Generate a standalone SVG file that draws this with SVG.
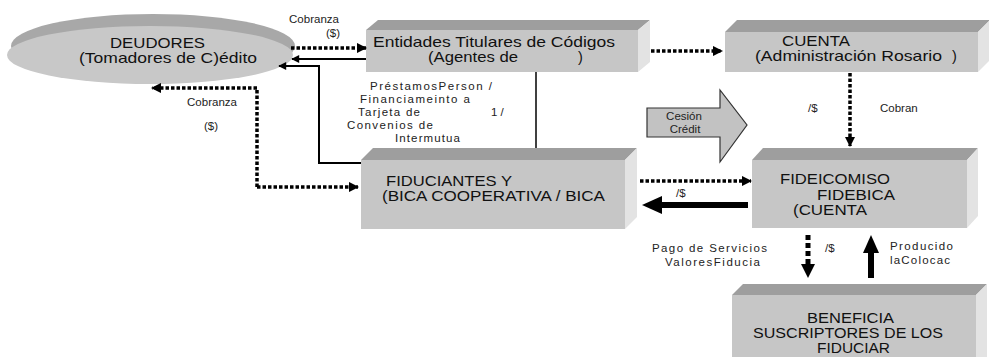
<svg xmlns="http://www.w3.org/2000/svg" width="989" height="357" viewBox="0 0 989 357">
<style>
.front{fill:#c6c6c6}
.top{fill:#9e9e9e}
.side{fill:#e3e3e3}
.big{font-family:"Liberation Sans",Arial,sans-serif;font-size:14.5px;fill:#111}
.sm{font-family:"Liberation Sans",Arial,sans-serif;font-size:11.5px;fill:#222}
.dot{fill:none;stroke:#000;stroke-width:3.5;stroke-dasharray:3.5 2}
.thin{fill:none;stroke:#000;stroke-width:2}
</style>
<defs>
<marker id="ah" viewBox="0 0 10 10" refX="9" refY="5" markerWidth="3" markerHeight="3" orient="auto" markerUnits="strokeWidth">
<path d="M0,0 L10,5 L0,10 Z" fill="#000"/>
</marker>
<marker id="ahThin" viewBox="0 0 10 10" refX="9" refY="5" markerWidth="5" markerHeight="4" orient="auto" markerUnits="strokeWidth">
<path d="M0,0 L10,5 L0,10 Z" fill="#000"/>
</marker>
</defs>

<g id="deudores">
<ellipse cx="153" cy="46" rx="142" ry="32" fill="#a8a8a8"/>
<ellipse cx="150" cy="55" rx="143" ry="29" fill="#c8c8c8"/>
<text class="big" x="110" y="48" textLength="95" lengthAdjust="spacingAndGlyphs">DEUDORES</text>
<text class="big" x="79" y="63" textLength="178" lengthAdjust="spacingAndGlyphs">(Tomadores de C)édito</text>
</g>

<g id="entidades">
<polygon class="top" points="366,30 378,20 650,20 638,30"/>
<polygon class="side" points="638,30 650,20 650,62 638,72"/>
<rect class="front" x="366" y="30" width="272" height="42"/>
<text class="big" x="373" y="47" textLength="242" lengthAdjust="spacingAndGlyphs">Entidades Titulares de Códigos</text>
<text class="big" x="428" y="62" textLength="90" lengthAdjust="spacingAndGlyphs">(Agentes de</text>
<text class="big" x="578" y="62">)</text>
</g>

<g id="cuenta">
<polygon class="top" points="725,32 737,20 990,20 978,32"/>
<polygon class="side" points="978,32 990,20 990,60 978,72"/>
<rect class="front" x="725" y="32" width="253" height="40"/>
<text class="big" x="782" y="46" textLength="68" lengthAdjust="spacingAndGlyphs">CUENTA</text>
<text class="big" x="755" y="61" textLength="187" lengthAdjust="spacingAndGlyphs">(Administración Rosario</text>
<text class="big" x="952" y="61">)</text>
</g>

<g id="cesion">
<polygon points="647,108 720,108 720,90 747,125 720,162 720,137 647,137" fill="#c2c2c2" stroke="#333" stroke-width="1.2"/>
<text class="sm" x="684" y="120" text-anchor="middle" font-size="11">Cesión</text>
<text class="sm" x="685" y="133" text-anchor="middle" font-size="11">Crédit</text>
</g>

<g id="fiduciantes">
<polygon class="top" points="361,160 373,148 637,148 625,160"/>
<polygon class="side" points="625,160 637,148 637,217 625,229"/>
<rect class="front" x="361" y="160" width="264" height="69"/>
<text class="big" x="386" y="186" textLength="126" lengthAdjust="spacingAndGlyphs">FIDUCIANTES Y</text>
<text class="big" x="382" y="201" textLength="223" lengthAdjust="spacingAndGlyphs">(BICA COOPERATIVA / BICA</text>
</g>

<g id="fideicomiso">
<polygon class="top" points="752,160 763,148 978,148 967,160"/>
<polygon class="side" points="967,160 978,148 978,216 967,228"/>
<rect class="front" x="752" y="160" width="215" height="68"/>
<text class="big" x="780" y="184" textLength="110" lengthAdjust="spacingAndGlyphs">FIDEICOMISO</text>
<text class="big" x="817" y="200" textLength="78" lengthAdjust="spacingAndGlyphs">FIDEBICA</text>
<text class="big" x="793" y="215" textLength="74" lengthAdjust="spacingAndGlyphs">(CUENTA</text>
</g>

<g id="beneficia">
<polygon class="top" points="732,295 743,284 987,284 976,295"/>
<polygon class="side" points="976,295 987,284 987,357 976,357"/>
<rect class="front" x="732" y="295" width="244" height="62"/>
<text class="big" x="807" y="323" textLength="87" lengthAdjust="spacingAndGlyphs">BENEFICIA</text>
<text class="big" x="753" y="338" textLength="190" lengthAdjust="spacingAndGlyphs">SUSCRIPTORES DE LOS</text>
<text class="big" x="817" y="353" textLength="73" lengthAdjust="spacingAndGlyphs">FIDUCIAR</text>
</g>

<g id="connectors">
<path class="dot" d="M291,48 L366,48" marker-end="url(#ah)"/>
<path class="thin" d="M366,59 L292,59" marker-end="url(#ahThin)"/>
<path class="thin" d="M361,163 L319,163 L319,66 L279,66" marker-end="url(#ahThin)"/>
<path d="M536,72 L536,148" stroke="#000" stroke-width="1.5" fill="none"/>
<path class="dot" d="M651,51 L722,51" marker-end="url(#ah)"/>
<path class="dot" d="M850,73 L850,146" marker-end="url(#ah)"/>
<path class="dot" d="M257,187 L257,88 L152,88" marker-end="url(#ah)"/>
<path class="dot" d="M257,187 L358,187" marker-end="url(#ah)"/>
<path class="dot" d="M640,181 L751,181" marker-end="url(#ah)"/>
<path d="M748,205 L660,205" stroke="#000" stroke-width="6" fill="none"/>
<polygon points="642,205 662,196 662,214" fill="#000"/>
<path d="M808,235 L808,264" stroke="#000" stroke-width="5" stroke-dasharray="5 3" fill="none"/>
<polygon points="801,264 815,264 808,278" fill="#000"/>
<path d="M871,278 L871,252" stroke="#000" stroke-width="6" fill="none"/>
<polygon points="863,253 879,253 871,235" fill="#000"/>
</g>

<g id="labels">
<text class="sm" x="314" y="23" text-anchor="middle">Cobranza</text>
<text class="sm" x="333" y="37" text-anchor="middle">($)</text>
<text class="sm" x="212" y="106" text-anchor="middle">Cobranza</text>
<text class="sm" x="211" y="130" text-anchor="middle">($)</text>
<text class="sm" x="370" y="90" textLength="122" lengthAdjust="spacing">PréstamosPerson /</text>
<text class="sm" x="360" y="103" textLength="110" lengthAdjust="spacing">Financiameinto a</text>
<text class="sm" x="358" y="116" textLength="62" lengthAdjust="spacing">Tarjeta de</text>
<text class="sm" x="491" y="116">1  /</text>
<text class="sm" x="347" y="129" textLength="86" lengthAdjust="spacing">Convenios de</text>
<text class="sm" x="395" y="142" textLength="65" lengthAdjust="spacing">Intermutua</text>
<text class="sm" x="808" y="112">/$</text>
<text class="sm" x="880" y="112">Cobran</text>
<text class="sm" x="676" y="197">/$</text>
<text class="sm" x="652" y="252" textLength="115" lengthAdjust="spacing">Pago de Servicios</text>
<text class="sm" x="665" y="266" textLength="95" lengthAdjust="spacing">ValoresFiducia</text>
<text class="sm" x="825" y="252">/$</text>
<text class="sm" x="890" y="250" textLength="63" lengthAdjust="spacing">Producido</text>
<text class="sm" x="890" y="264" textLength="60" lengthAdjust="spacing">laColocac</text>
</g>
</svg>
